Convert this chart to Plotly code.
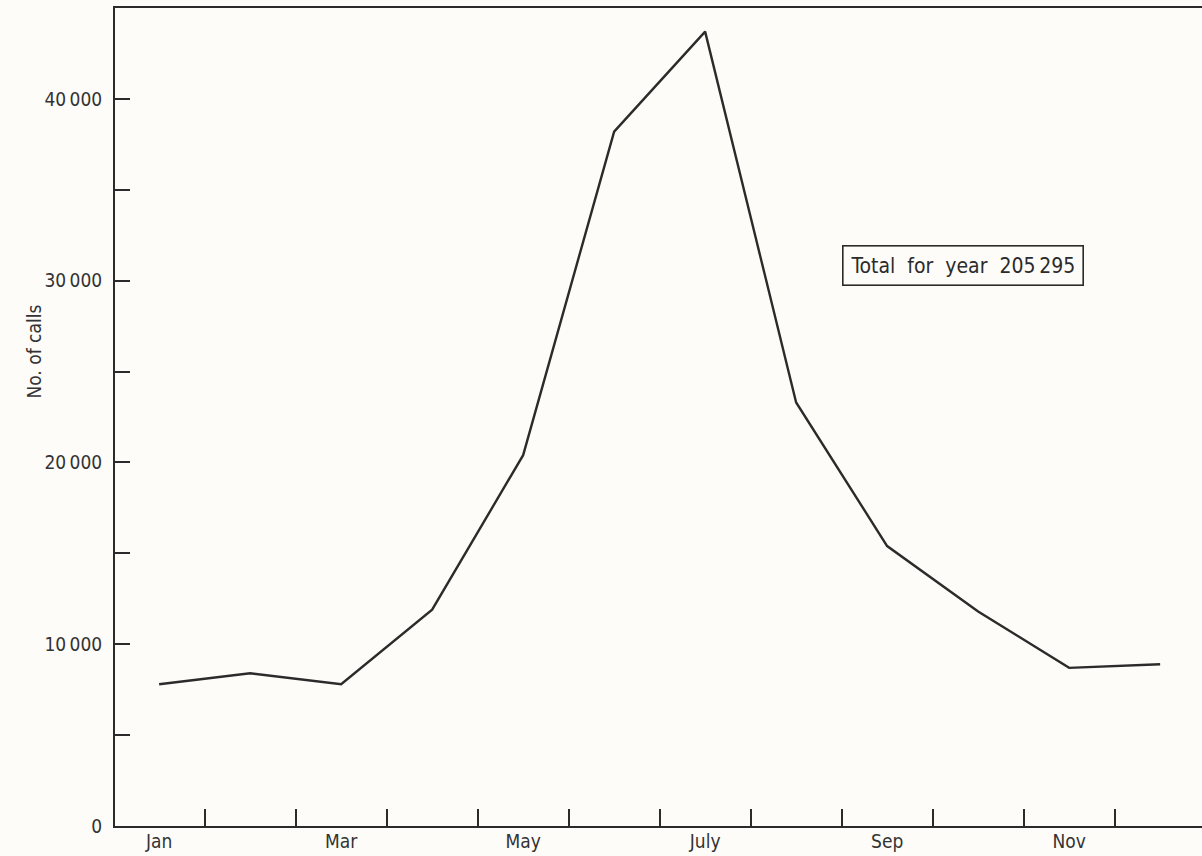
import plotly.graph_objects as go

months = ["Jan", "Feb", "Mar", "Apr", "May", "Jun", "Jul", "Aug", "Sep", "Oct", "Nov", "Dec"]
month_labels = ["Jan", "", "Mar", "", "May", "", "July", "", "Sep", "", "Nov", ""]
calls = [7800, 8400, 7800, 11900, 20400, 38200, 43700, 23300, 15400, 11800, 8700, 8900]
y_tick_values = [0, 5000, 10000, 15000, 20000, 25000, 30000, 35000, 40000]
y_tick_labels = ["0", "", "10\u2009000", "", "20\u2009000", "", "30\u2009000", "", "40\u2009000"]
y_title = "No. of calls"
total_text = "Total  for  year  205\u2009295"

x_idx = list(range(len(months)))
boundaries = [i + 0.5 for i in range(len(months) - 1)]

FONT = "DejaVu Sans Condensed"
INK = "#2b2b2b"
TXT = "#333333"
BG = "#fdfcf9"

fig = go.Figure()
fig.add_trace(go.Scatter(
    x=x_idx, y=calls, mode="lines",
    line=dict(color=INK, width=2.4),
    text=months, hoverinfo="text+y", showlegend=False,
))
# invisible trace carrying the month label axis
fig.add_trace(go.Scatter(x=x_idx, y=calls, xaxis="x2", mode="lines",
                         line=dict(width=0), hoverinfo="skip", showlegend=False))

xr = [-0.485, 11.46]
fig.update_layout(
    width=1202, height=856,
    margin=dict(l=115, r=0, t=8, b=30),
    paper_bgcolor=BG, plot_bgcolor=BG,
    font=dict(family=FONT, color=TXT, size=19),
    xaxis=dict(
        range=xr, showgrid=False, zeroline=False,
        showline=True, linecolor=INK, linewidth=2, mirror=True,
        tickmode="array", tickvals=boundaries, ticktext=[""] * len(boundaries),
        ticks="inside", ticklen=17, tickwidth=2, tickcolor=INK,
    ),
    xaxis2=dict(
        range=xr, overlaying="x", anchor="y", side="bottom",
        showgrid=False, zeroline=False, showline=False,
        tickmode="array", tickvals=x_idx, ticktext=month_labels,
        ticks="", ticklabelstandoff=2,
        tickfont=dict(family=FONT, size=19, color=TXT),
    ),
    yaxis=dict(
        range=[0, 45000], showgrid=False, zeroline=False,
        showline=True, linecolor=INK, linewidth=2,
        tickmode="array", tickvals=y_tick_values, ticktext=y_tick_labels,
        ticks="inside", ticklen=15, tickwidth=2, tickcolor=INK,
        ticklabelstandoff=7,
        tickfont=dict(family=FONT, size=19, color=TXT),
    ),
    annotations=[
        dict(
            x=8.83, y=30850, xref="x", yref="y", text=total_text, showarrow=False,
            font=dict(family=FONT, size=21, color=INK),
            bordercolor=INK, borderwidth=1.6, borderpad=7, bgcolor=BG,
        ),
        dict(
            x=-0.0745, y=0.58, xref="paper", yref="paper", text=y_title,
            showarrow=False, textangle=-90, xanchor="center", yanchor="middle",
            font=dict(family=FONT, size=19, color=TXT),
        ),
    ],
)
fig.write_html(
    "out.html",
    config={"displayModeBar": False},
    post_script="document.body.style.margin='0';document.body.style.overflow='hidden';"
                "document.body.style.background='" + BG + "';",
)
